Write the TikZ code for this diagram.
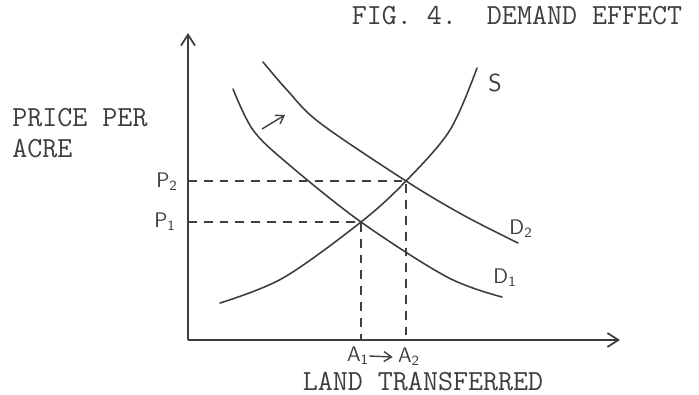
\documentclass[tikz,border=0pt]{standalone}
\usepackage{fontspec}
\usetikzlibrary{arrows.meta}
\definecolor{ink}{HTML}{3E3E3E}

\begin{document}
\begin{tikzpicture}[
  x=0.02cm, y=-0.02cm,
  axis/.style={
    draw=ink,
    line width=0.9pt,
    -{Straight Barb[length=2.2mm,width=2.8mm,line width=1pt]}
  },
  curve/.style={
    draw=ink,
    line width=0.9pt,
    line cap=round
  },
  guide/.style={
    draw=ink,
    line width=0.7pt,
    dash pattern=on 5pt off 4pt
  },
  type/.style={
    text=ink,
    inner sep=0pt,
    font=\ttfamily\fontsize{16.6}{18}\selectfont
  },
  hand/.style={
    text=ink,
    inner sep=0pt,
    font=\sffamily\fontsize{12}{14}\selectfont
  },
  small arrow/.style={
    draw=ink,
    line width=0.8pt,
    -{Straight Barb[length=1.5mm,width=2mm]}
  }
]
\useasboundingbox (0,0) rectangle (699,395);

% Achsen
\coordinate (o) at (188,340);
\coordinate (ytop) at (188,33);
\coordinate (xend) at (620,340);
\draw[axis] (o) -- (ytop);
\draw[axis] (o) -- (xend);

% Gleichgewichtspunkte
\coordinate (e1) at (361,222);
\coordinate (e2) at (406,181);

% Hilfslinien
\draw[guide] (o |- e1) -- (e1) -- (e1 |- o);
\draw[guide] (o |- e2) -- (e2) -- (e2 |- o);

% Angebot
\draw[curve] plot[smooth,tension=0.55] coordinates
  {(220,303) (283,278) (e1) (e2) (450,130) (477,68)};

% Nachfrage vorher
\draw[curve] plot[smooth,tension=0.55] coordinates
  {(233,89) (253,130) (287,163) (e1) (447,277) (502,297)};

% Nachfrage nachher
\draw[curve] plot[smooth,tension=0.55] coordinates
  {(263,62) (287,90) (320,123) (e2) (463,215) (518,243)};

% Verschiebung
\coordinate (shift0) at (262,129);
\coordinate (shift1) at (285,115);
\draw[small arrow] (shift0) -- (shift1);

% Beschriftungen
\node[type] (title) at (517,16) {FIG.~4.~~DEMAND EFFECT};
\node[type,align=left,anchor=west] (ylabel) at (12,133)
  {PRICE PER\\ACRE};
\node[type,anchor=base] (xlabel) at (423,390) {LAND TRANSFERRED};

\node[hand] (p2) at (167,182) {P\textsubscript{2}};
\node[hand] (p1) at (165,222) {P\textsubscript{1}};
\node[hand] (a1) at (358,356) {A\textsubscript{1}};
\node[hand] (a2) at (409,357) {A\textsubscript{2}};
\draw[small arrow] (a1.east) -- ([xshift=-1mm]a2.west);

\node[hand,font=\sffamily\fontsize{14}{16}\selectfont] (s) at (495,83) {S};
\node[hand] (d1) at (505,278) {D\textsubscript{1}};
\node[hand] (d2) at (521,229) {D\textsubscript{2}};

\end{tikzpicture}
\end{document}
